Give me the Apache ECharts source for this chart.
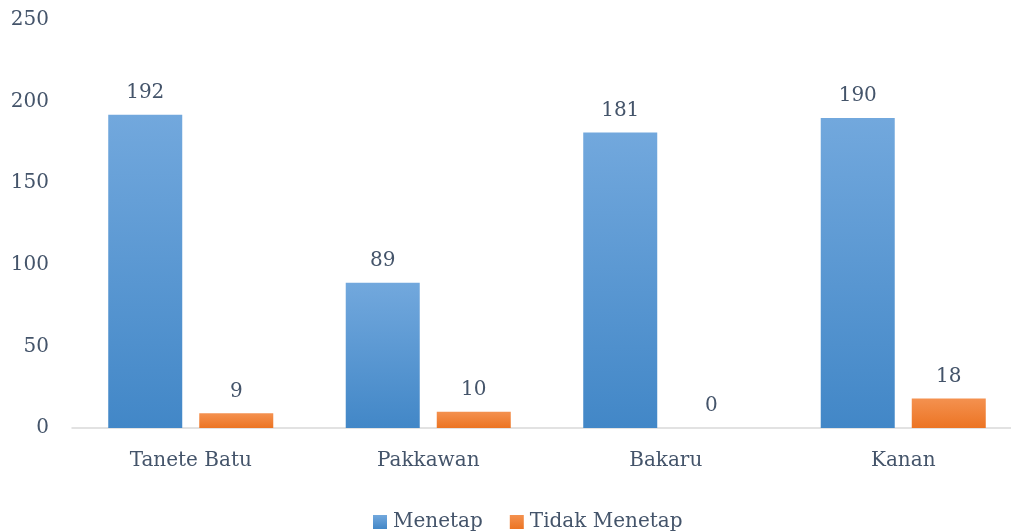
<!DOCTYPE html>
<html>
<head>
<meta charset="utf-8">
<script src="https://cdn.jsdelivr.net/npm/echarts@6/dist/echarts.min.js"></script>
<style>
  html, body { margin: 0; padding: 0; background: #ffffff; overflow: hidden; }
  #frame { width: 1011px; height: 532px; overflow: hidden; }
  /* the plot area continues a little past the right edge of the frame */
  #chart { width: 1022px; height: 532px; }
</style>
</head>
<body>
<div id="frame"><div id="chart"></div></div>
<script>
// Villages and resident counts per status
const categories = ['Tanete Batu', 'Pakkawan', 'Bakaru', 'Kanan'];
const menetap = [192, 89, 181, 190];
const tidakMenetap = [9, 10, 0, 18];
const seriesNames = ['Menetap', 'Tidak Menetap'];

const textColor = '#44546A';
const fontFamily = '"DejaVu Serif", "Liberation Serif", serif';
const fontSize = 20;

function vGrad(top, bottom) {
  return new echarts.graphic.LinearGradient(0, 0, 0, 1, [
    { offset: 0, color: top },
    { offset: 1, color: bottom }
  ]);
}

const labelStyle = {
  show: true,
  position: 'top',
  distance: 12,
  color: textColor,
  fontFamily: fontFamily,
  fontSize: fontSize
};

const chart = echarts.init(document.getElementById('chart'), null, { renderer: 'canvas' });
chart.setOption({
  animation: false,
  textStyle: { fontFamily: fontFamily },
  grid: { left: 72, right: 0, top: 20, bottom: 104, containLabel: false },
  legend: {
    left: 373,
    top: 512,
    padding: 0,
    itemWidth: 14,
    itemHeight: 14,
    itemGap: 27,
    icon: 'rect',
    textStyle: { color: textColor, fontFamily: fontFamily, fontSize: 20, padding: [0, 0, 0, 1] },
    data: seriesNames
  },
  xAxis: {
    type: 'category',
    data: categories,
    axisLine: { lineStyle: { color: '#D9D9D9', width: 1.5 } },
    axisTick: { show: false },
    axisLabel: { color: textColor, fontFamily: fontFamily, fontSize: fontSize, margin: 23 }
  },
  yAxis: {
    type: 'value',
    min: 0,
    max: 250,
    interval: 50,
    axisLine: { show: false },
    axisTick: { show: false },
    splitLine: { show: false },
    axisLabel: { color: textColor, fontFamily: fontFamily, fontSize: fontSize, margin: 23 }
  },
  series: [
    {
      name: seriesNames[0],
      type: 'bar',
      data: menetap,
      barWidth: 74,
      barGap: '23%',
      itemStyle: { color: vGrad('#72A8DD', '#4287C7') },
      label: labelStyle
    },
    {
      name: seriesNames[1],
      type: 'bar',
      data: tidakMenetap,
      barWidth: 74,
      itemStyle: { color: vGrad('#F4914F', '#EC7423') },
      label: labelStyle
    }
  ]
});
</script>
</body>
</html>
